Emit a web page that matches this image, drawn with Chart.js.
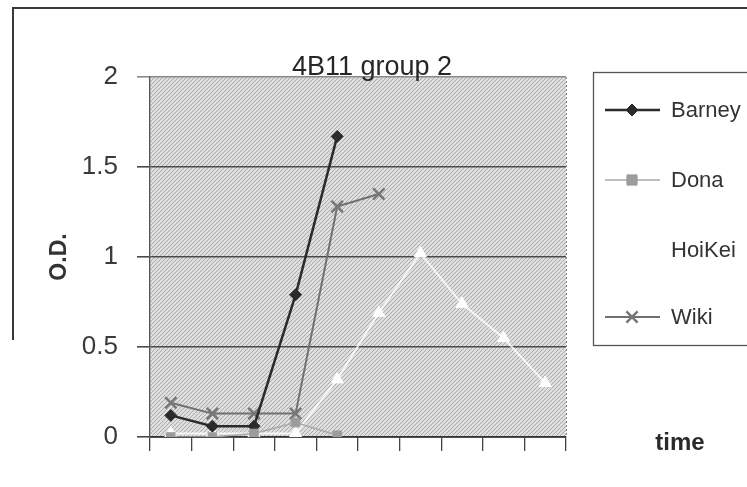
<!DOCTYPE html>
<html><head><meta charset="utf-8">
<script src="https://cdn.jsdelivr.net/npm/chart.js@4/dist/chart.umd.min.js"></script>
<style>html,body{margin:0;padding:0;background:#fff;}#wrap{width:747px;height:487px;position:relative;}</style>
</head><body><div id="wrap"><canvas id="c" width="747" height="487"></canvas></div>
<script>
// ---- data ----
const timePoints = ['1','2','3','4','5','6','7','8','9','10'];
const barney = [0.12, 0.06, 0.06, 0.79, 1.67, null, null, null, null, null];
const dona   = [0.00, 0.00, 0.02, 0.08, 0.01, null, null, null, null, null];
const hoiKei = [0.02, 0.02, 0.02, 0.02, 0.32, 0.69, 1.02, 0.74, 0.55, 0.30];
const wiki   = [0.19, 0.13, 0.13, 0.13, 1.28, 1.35, null, null, null, null];
const seriesNames = ['Barney', 'Dona', 'HoiKei', 'Wiki'];
const yTicks = [0, 0.5, 1, 1.5, 2];
const chartTitle = '4B11 group 2';
const yTitle = 'O.D.';
const xTitle = 'time';

function hatch() {
  const p = document.createElement('canvas');
  p.width = 4; p.height = 4;
  const g = p.getContext('2d');
  g.fillStyle = '#dedede'; g.fillRect(0, 0, 4, 4);
  g.fillStyle = '#ababab';
  for (let i = 0; i < 4; i++) g.fillRect(i, 3 - i, 1, 1);
  return g.createPattern(p, 'repeat');
}

function marker(ctx, ds, x, y) {
  const r = ds.pointRadius;
  ctx.save();
  ctx.fillStyle = ds.pointBackgroundColor;
  ctx.strokeStyle = ds.pointBorderColor;
  ctx.lineWidth = ds.pointBorderWidth;
  ctx.beginPath();
  if (ds.pointStyle === 'rectRot') {
    ctx.moveTo(x, y - r); ctx.lineTo(x + r, y); ctx.lineTo(x, y + r); ctx.lineTo(x - r, y); ctx.closePath();
    ctx.fill(); ctx.stroke();
  } else if (ds.pointStyle === 'rect') {
    const s = r * 0.85;
    ctx.rect(x - s, y - s, 2 * s, 2 * s); ctx.fill(); ctx.stroke();
  } else if (ds.pointStyle === 'triangle') {
    ctx.moveTo(x, y - r); ctx.lineTo(x + r * 0.87, y + r * 0.5); ctx.lineTo(x - r * 0.87, y + r * 0.5); ctx.closePath();
    ctx.fill(); ctx.stroke();
  } else if (ds.pointStyle === 'crossRot') {
    const s = r * 0.7;
    ctx.moveTo(x - s, y - s); ctx.lineTo(x + s, y + s);
    ctx.moveTo(x + s, y - s); ctx.lineTo(x - s, y + s);
    ctx.stroke();
  }
  ctx.restore();
}

const decor = {
  id: 'decor',
  beforeDraw(chart) {
    const { ctx, chartArea: a } = chart;
    ctx.save();
    ctx.fillStyle = '#fff';
    ctx.fillRect(0, 0, chart.width, chart.height);
    ctx.fillStyle = hatch();
    ctx.fillRect(a.left, a.top, a.right - a.left, a.bottom - a.top);
    ctx.strokeStyle = '#8a8a8a'; ctx.lineWidth = 1;
    ctx.setLineDash([2, 2]);
    ctx.beginPath(); ctx.moveTo(a.right + 0.5, a.top); ctx.lineTo(a.right + 0.5, a.bottom); ctx.stroke();
    ctx.restore();
  },
  afterDraw(chart) {
    const { ctx, chartArea: a } = chart;
    ctx.save();
    // outer frame (partially visible)
    ctx.strokeStyle = '#3a3a3a'; ctx.lineWidth = 2;
    ctx.beginPath(); ctx.moveTo(13, 340); ctx.lineTo(13, 8); ctx.lineTo(747, 8); ctx.stroke();
    // title
    ctx.fillStyle = '#262626';
    ctx.font = '27px "Liberation Sans", Arial, sans-serif';
    ctx.textAlign = 'left'; ctx.textBaseline = 'alphabetic';
    ctx.fillText(chartTitle, 292, 75);
    // y title
    ctx.save();
    ctx.translate(66, (a.top + a.bottom) / 2);
    ctx.rotate(-Math.PI / 2);
    ctx.font = 'bold 23px "Liberation Sans", Arial, sans-serif';
    ctx.textAlign = 'center'; ctx.textBaseline = 'alphabetic';
    ctx.fillStyle = '#333';
    ctx.fillText(yTitle, 0, 0);
    ctx.restore();
    // x title
    ctx.font = 'bold 24px "Liberation Sans", Arial, sans-serif';
    ctx.fillStyle = '#2a2a2a';
    ctx.textAlign = 'center'; ctx.textBaseline = 'middle';
    ctx.fillText(xTitle, 680, 443);
    // legend
    ctx.strokeStyle = '#555'; ctx.lineWidth = 1.3;
    ctx.strokeRect(593.5, 72.5, 200, 273);
    const ys = [110, 180, 250, 317];
    ctx.font = '22px "Liberation Sans", Arial, sans-serif';
    ctx.textAlign = 'left'; ctx.textBaseline = 'middle';
    chart.data.datasets.forEach((ds, i) => {
      const y = ys[i];
      ctx.strokeStyle = ds.borderColor; ctx.lineWidth = ds.borderWidth;
      ctx.beginPath(); ctx.moveTo(605, y); ctx.lineTo(660, y); ctx.stroke();
      marker(ctx, ds, 632, y);
      ctx.fillStyle = '#333';
      ctx.fillText(ds.label, 671, y + 1);
    });
    ctx.restore();
  }
};

new Chart(document.getElementById('c'), {
  type: 'line',
  data: {
    labels: timePoints,
    datasets: [
      { label: seriesNames[0], data: barney, borderColor: '#2b2b2b', borderWidth: 2.5, order: 1,
        pointStyle: 'rectRot', pointRadius: 6, pointBackgroundColor: '#2b2b2b', pointBorderColor: '#2b2b2b', pointBorderWidth: 1 },
      { label: seriesNames[1], data: dona, borderColor: '#a9a9a9', borderWidth: 1.5, order: 0,
        pointStyle: 'rect', pointRadius: 6, pointBackgroundColor: '#9c9c9c', pointBorderColor: '#9c9c9c', pointBorderWidth: 1 },
      { label: seriesNames[2], data: hoiKei, borderColor: 'rgba(255,255,255,0.8)', borderWidth: 2, order: 3,
        pointStyle: 'triangle', pointRadius: 7, pointBackgroundColor: '#ffffff', pointBorderColor: '#ffffff', pointBorderWidth: 1 },
      { label: seriesNames[3], data: wiki, borderColor: '#707070', borderWidth: 2, order: 2,
        pointStyle: 'crossRot', pointRadius: 8, pointBackgroundColor: '#777', pointBorderColor: '#777', pointBorderWidth: 2.5 }
    ]
  },
  options: {
    responsive: false,
    animation: false,
    spanGaps: false,
    layout: { padding: { left: 0, top: 77, right: 181, bottom: 36 } },
    plugins: { legend: { display: false }, title: { display: false }, tooltip: { enabled: false } },
    scales: {
      x: {
        type: 'category',
        offset: true,
        grid: { offset: true, drawOnChartArea: false, drawTicks: true, tickLength: 14, color: '#444', lineWidth: 1.3 },
        border: { display: true, color: '#333', width: 1.8 },
        ticks: { display: false },
        afterFit(s) { s.height = 14; }
      },
      y: {
        min: 0, max: 2,
        afterBuildTicks(s) { s.ticks = yTicks.map(v => ({ value: v })); },
        ticks: {
          padding: 19, color: '#3a3a3a',
          font: { family: '"Liberation Sans", Arial, sans-serif', size: 26 },
          callback: v => String(v)
        },
        grid: {
          drawTicks: true, tickLength: 13, lineWidth: 1.6,
          color: ctx => (ctx.tick && ctx.tick.value === 2) ? '#8a8a8a' : '#4a4a4a'
        },
        border: { display: true, color: '#555', width: 1.3 },
        afterFit(s) { s.width = 150; }
      }
    }
  },
  plugins: [decor]
});
</script>
</body></html>
